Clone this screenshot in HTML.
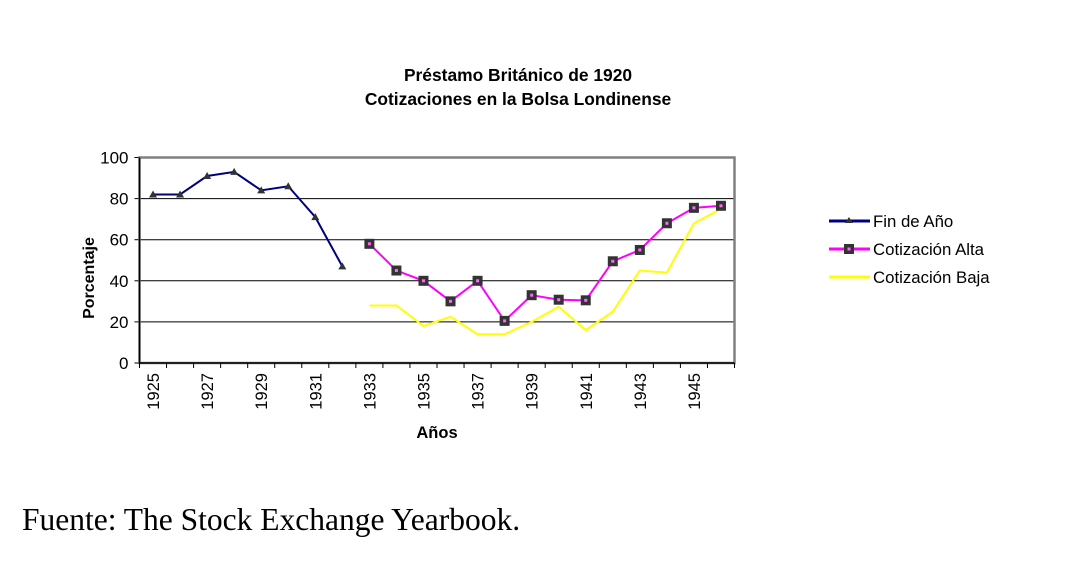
<!DOCTYPE html>
<html><head><meta charset="utf-8"><style>
body{margin:0;background:#fff;width:1070px;height:562px;overflow:hidden}
svg{font-family:"Liberation Sans",sans-serif}
</style></head><body>
<svg width="1070" height="562">
<g id="root"></g>
</svg>
<script>
const years=[1925,1926,1927,1928,1929,1930,1931,1932,1933,1934,1935,1936,1937,1938,1939,1940,1941,1942,1943,1944,1945,1946];
const finDeAno=[82,82,91,93,84,86,71,47,null,null,null,null,null,null,null,null,null,null,null,null,null,null];
const cotizAlta=[null,null,null,null,null,null,null,null,58,45,40,30,40,20.5,33,30.8,30.5,49.5,55,68,75.5,76.5];
const cotizBaja=[null,null,null,null,null,null,null,null,28,28,18,22.5,14,14,20,27.4,16,25,45,44,68,75];
const yTicks=[0,20,40,60,80,100];
const xLabels=[1925,1927,1929,1931,1933,1935,1937,1939,1941,1943,1945];
const L=139.5,R=734.5,T=157.5,B=363;
const step=(R-L)/years.length;
const X=i=>L+step*(i+0.5);
const Y=v=>B-(v/100)*(B-T);
const NS='http://www.w3.org/2000/svg';
const root=document.getElementById('root');
function mk(tag,at,parent){const e=document.createElementNS(NS,tag);for(const k in at)e.setAttribute(k,at[k]);(parent||root).appendChild(e);return e;}
function txt(s,at){const e=mk('text',at);e.textContent=s;return e;}
let t=txt('Préstamo Británico de 1920',{x:518,y:81,'text-anchor':'middle','font-size':17.4,'font-weight':'bold'});

t=txt('Cotizaciones en la Bolsa Londinense',{x:518,y:105,'text-anchor':'middle','font-size':17.4,'font-weight':'bold'});

yTicks.forEach(v=>{
 if(v>0&&v<100){const g=mk('line',{x1:L,x2:R,y1:Y(v),y2:Y(v),stroke:'#000','stroke-width':1});}
 mk('line',{x1:L-5,x2:L,y1:Y(v),y2:Y(v),stroke:'#000'});
 const l=txt(String(v),{x:L-11,y:Y(v)+6,'text-anchor':'end','font-size':17});
 
});
const fr=mk('rect',{x:L,y:T,width:R-L,height:B-T,fill:'none',stroke:'#808080','stroke-width':2.5});

mk('line',{x1:L,x2:L,y1:T,y2:B+1,stroke:'#000','stroke-width':1.5});
mk('line',{x1:L,x2:R,y1:B,y2:B,stroke:'#000','stroke-width':1.5});
for(let i=0;i<=years.length;i++)mk('line',{x1:L+step*i,x2:L+step*i,y1:B,y2:B+5,stroke:'#000'});
xLabels.forEach(y=>{const i=years.indexOf(y);const cx=X(i)+6;
 const l=txt(String(y),{x:0,y:0,'text-anchor':'end','font-size':16.5,transform:`translate(${cx},${B+10}) rotate(-90)`});
 });
t=txt('Porcentaje',{x:0,y:0,'text-anchor':'middle','font-size':16,'font-weight':'bold',transform:`translate(94,278) rotate(-90)`});

t=txt('Años',{x:437,y:438,'text-anchor':'middle','font-size':16.5,'font-weight':'bold'});

function path(arr,color,w,name){let d='';arr.forEach((v,i)=>{if(v==null)return;d+=(d&&arr[i-1]!=null?'L':'M')+X(i)+','+Y(v);});
 const p=mk('path',{d:d,fill:'none',stroke:color,'stroke-width':w});}
path(cotizBaja,'#ffff00',2,'series-cotizacion-baja');
path(cotizAlta,'#ff00ff',2,'series-cotizacion-alta');
path(finDeAno,'#000080',2,'series-fin-de-ano');
finDeAno.forEach((v,i)=>{if(v==null)return;const x=X(i),y=Y(v);
 const m=mk('path',{d:`M${x-4},${y+3}L${x+4},${y+3}L${x},${y-4}Z`,fill:'#333'});});
cotizAlta.forEach((v,i)=>{if(v==null)return;const x=X(i),y=Y(v);
 const m=mk('rect',{x:x-5,y:y-5,width:10,height:10,fill:'#333'});
 mk('rect',{x:x-1.5,y:y-1.5,width:3,height:3,fill:'#ff66ff'});});
const leg=[['Fin de Año','#000080','tri'],['Cotización Alta','#ff00ff','sq'],['Cotización Baja','#ffff00','']];
leg.forEach((e,k)=>{const y=221+k*28;
 const g=mk('g',{});
 mk('line',{x1:829,x2:870,y1:y,y2:y,stroke:e[1],'stroke-width':3},g);
 if(e[2]=='tri')mk('path',{d:`M845,${y+2}L853,${y+2}L849,${y-4}Z`,fill:'#333'},g);
 if(e[2]=='sq'){mk('rect',{x:844,y:y-5,width:10,height:10,fill:'#333'},g);mk('rect',{x:847.5,y:y-1.5,width:3,height:3,fill:'#ff66ff'},g);}
 const l=mk('text',{x:873,y:y+6,'font-size':16.8},g);l.textContent=e[0];});
t=txt('Fuente: The Stock Exchange Yearbook.',{x:22,y:530,'font-size':31.5,'font-family':'Liberation Serif, serif'});

</script>
</body></html>
